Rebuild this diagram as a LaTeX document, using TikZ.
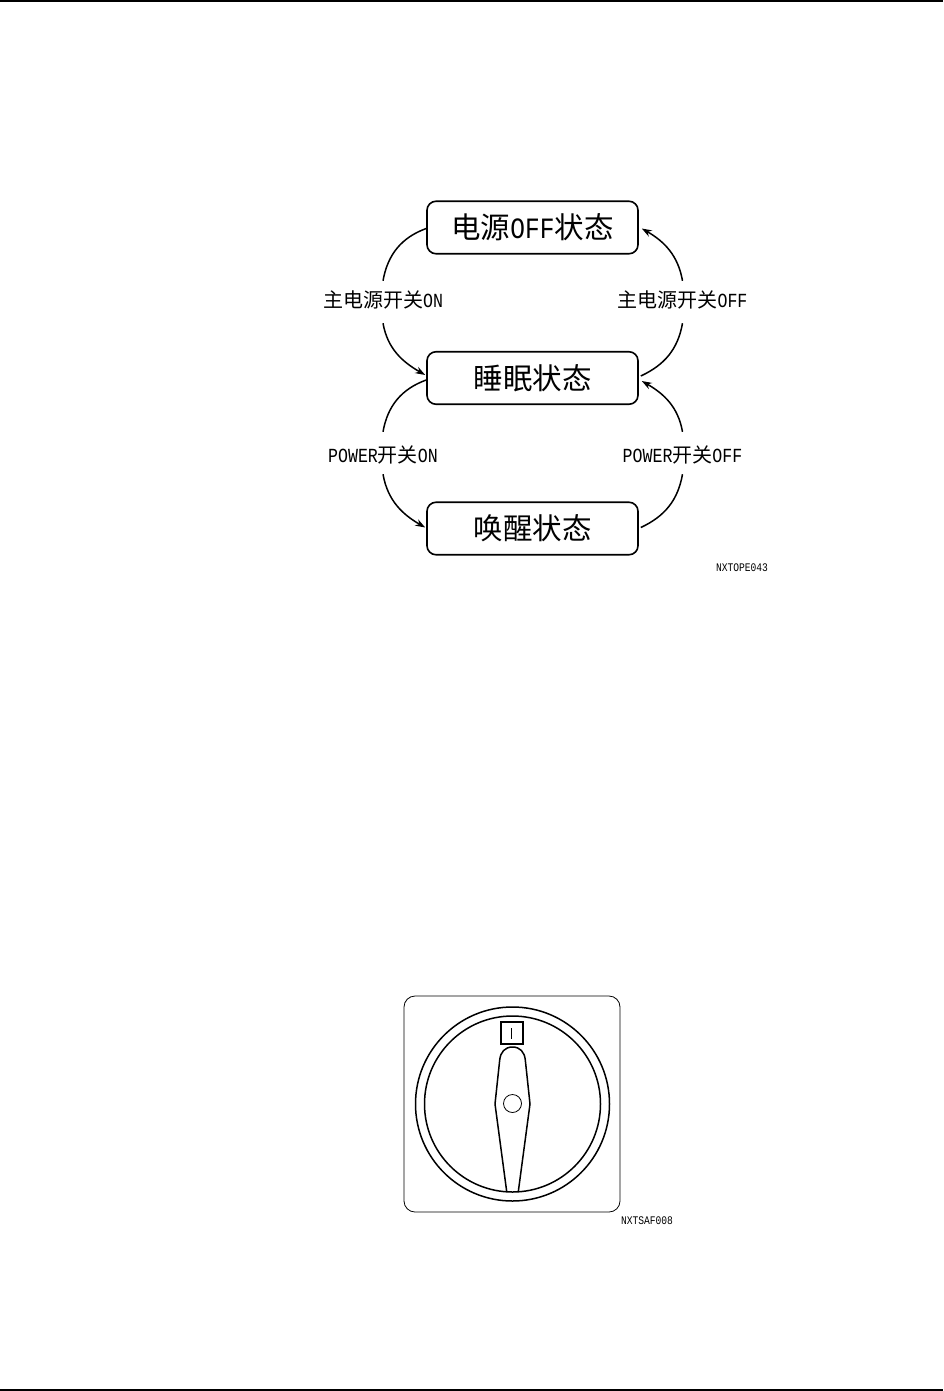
\documentclass[tikz,border=0pt]{standalone}
\usepackage{fontspec}
\usetikzlibrary{arrows.meta}
\setmainfont{Noto Sans CJK SC}
\newfontfamily\latinfont[FakeStretch=0.83]{Liberation Mono}
\newcommand{\lt}[1]{{\latinfont #1}}
\tikzset{
    statebox/.style={draw, line width=1.6pt, rounded corners=9pt, minimum width=211pt, minimum height=52.5pt, inner sep=0pt, font=\fontsize{29.5}{29.5}\selectfont},
    switchlabel/.style={inner sep=0pt, minimum width=100pt, minimum height=42pt, font=\fontsize{20}{20}\selectfont},
    flowline/.style={line width=1.5pt},
    flowarrow/.style={line width=1.5pt, -{Stealth[length=10pt,width=7pt]}},
    partcode/.style={inner sep=0pt, font=\fontsize{11.6}{12}\selectfont}
}
\begin{document}
\begin{tikzpicture}[x=1pt, y=1pt]
    \useasboundingbox (0,0) rectangle (943,-1391);

    % page rules
    \coordinate (topleft) at (0,-1);
    \coordinate (topright) at (943,-1);
    \coordinate (botleft) at (0,-1389.5);
    \coordinate (botright) at (943,-1389.5);
    \draw[line width=2pt] (topleft) -- (topright);
    \draw[line width=2pt] (botleft) -- (botright);

    % 1. state boxes
    \node[statebox] (offstate) at (532.5,-227.5) {电源\lt{OFF}状态};
    \node[statebox] (sleepstate) at (532.5,-378) {睡眠状态};
    \node[statebox] (wakestate) at (532.5,-528.5) {唤醒状态};

    % 2. switch labels
    \node[switchlabel] (mainon) at (383,-300) {主电源开关\lt{ON}};
    \node[switchlabel] (mainoff) at (682.5,-300) {主电源开关\lt{OFF}};
    \node[switchlabel] (poweron) at (383,-455) {\lt{POWER}开关\lt{ON}};
    \node[switchlabel] (poweroff) at (682.5,-455) {\lt{POWER}开关\lt{OFF}};
    \node[partcode] (offcode) at (742,-568) {\lt{NXTOPE043}};

    % 3. connectors, broken at the labels
    \draw[flowline] ([yshift=-1pt]offstate.west) to[out=200,in=80] ([yshift=-2pt]mainon.north);
    \draw[flowarrow] ([yshift=-2pt]mainon.south) to[out=-80,in=150] ([xshift=-1pt,yshift=3pt]sleepstate.west);
    \draw[flowline] ([yshift=-2pt]sleepstate.west) to[out=200,in=80] ([yshift=2pt]poweron.north);
    \draw[flowarrow] ([yshift=2pt]poweron.south) to[out=-80,in=150] ([xshift=-1pt,yshift=1pt]wakestate.west);
    \draw[flowline] ([xshift=2pt,yshift=2pt]sleepstate.east) to[out=25,in=-100] ([yshift=-2pt]mainoff.south);
    \draw[flowarrow] ([yshift=-2pt]mainoff.north) to[out=100,in=-30] ([xshift=3pt,yshift=-1pt]offstate.east);
    \draw[flowline] ([xshift=2pt,yshift=1pt]wakestate.east) to[out=25,in=-100] ([yshift=2pt]poweroff.south);
    \draw[flowarrow] ([yshift=2pt]poweroff.north) to[out=100,in=-30] ([xshift=3pt,yshift=-3pt]sleepstate.east);

    % 4. rotary switch
    \draw[line width=0.8pt, rounded corners=11pt] (404,-996) rectangle (620,-1212);
    \draw[line width=1.5pt] (512.5,-1104) circle (97);
    \draw[line width=1.5pt] (512.5,-1104) circle (88);
    \draw[line width=1.5pt] (501,-1022) rectangle (523,-1044);
    \draw[line width=1pt] (511.5,-1028) -- (511.5,-1039);
    \draw[line width=1.5pt] (506.7,-1191.5) -- (495,-1104) -- (499.7,-1060)
          .. controls (500.5,-1052) and (505,-1047) .. (512.5,-1047)
          .. controls (520,-1047) and (524.5,-1052) .. (525.3,-1060)
          -- (530,-1104) -- (518.3,-1191.5);
    \draw[line width=0.8pt] (512.5,-1103.5) circle (9);
    \node[partcode] (safcode) at (647,-1221) {\lt{NXTSAF008}};
\end{tikzpicture}
\end{document}
